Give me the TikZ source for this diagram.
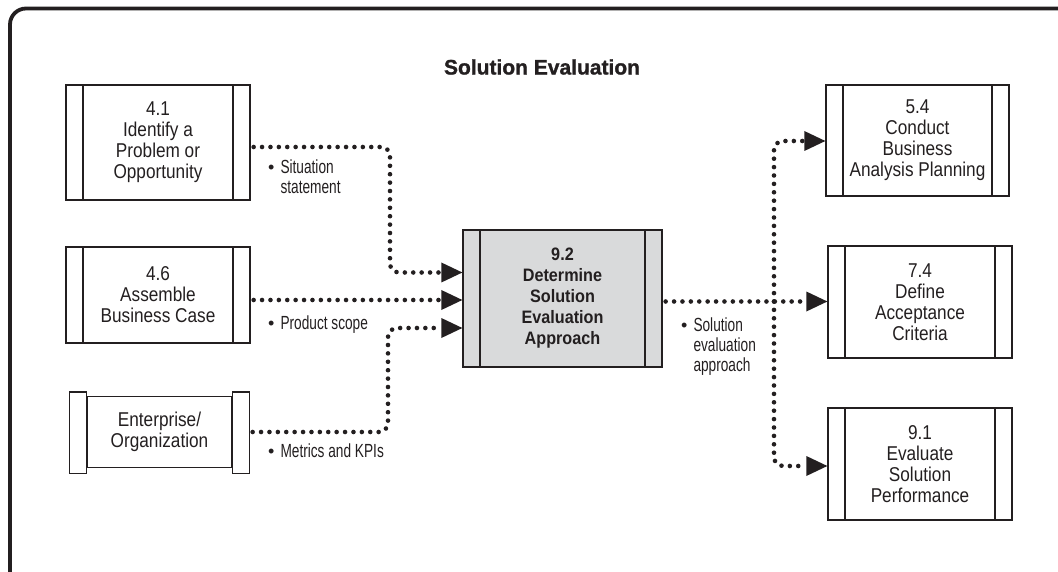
\documentclass[tikz,border=0pt]{standalone}
\usepackage{fontspec}
\setmainfont{Liberation Sans}
\newfontfamily\boxfont[FakeStretch=0.86]{Liberation Sans}
\newfontfamily\ctrfont[FakeStretch=0.9]{Liberation Sans}
\newfontfamily\lblfont[FakeStretch=0.72]{Liberation Sans}
\newfontfamily\ttlfont[FakeBold=1.2]{Liberation Sans Bold}
\usetikzlibrary{arrows.meta,calc}
\definecolor{ink}{RGB}{35,31,32}
\definecolor{boxgray}{RGB}{217,218,219}
\newcommand{\blt}{{\normalfont\fontsize{18}{20}\selectfont\textbullet}}
\tikzset{
  procbox/.style={draw=ink, line width=1.3pt, minimum width=184pt, inner sep=0pt,
    align=center, text=ink, font=\boxfont\fontsize{20}{21}\selectfont,
    path picture={\draw[ink,line width=1.3pt]
      ([xshift=17pt]path picture bounding box.north west) -- ([xshift=17pt]path picture bounding box.south west)
      ([xshift=-17pt]path picture bounding box.north east) -- ([xshift=-17pt]path picture bounding box.south east);}},
  bodybox/.style={draw=ink, line width=1.3pt, inner sep=0pt, align=center, text=ink,
    font=\boxfont\fontsize{20}{21}\selectfont},
  strip/.style={draw=ink, line width=1.3pt},
  flow/.style={draw=ink, line width=4.6pt, line cap=round, dash pattern=on 0pt off 8.4pt,
    rounded corners=9pt, -{Triangle[length=21pt,width=20pt,line width=0pt]}},
  lbl/.style={anchor=west, inner sep=0pt, text=ink, font=\lblfont\fontsize{19}{20}\selectfont},
  ttl/.style={inner sep=0pt, text=ink, font=\ttlfont\fontsize{21}{25}\selectfont}
}
\begin{document}
\begin{tikzpicture}[x=1pt,y=-1pt]
\useasboundingbox (0,0) rectangle (1058,572);
\clip (0,0) rectangle (1058,572);
\draw[ink,line width=3.8pt,rounded corners=16pt] (10,8.5) rectangle (1090,610);

\node[ttl] (title) at (542,67) {Solution Evaluation};

% left boxes
\node[procbox, minimum height=115pt] (b41) at (158,142.5) {4.1\\Identify a\\Problem or\\Opportunity};
\node[procbox, minimum height=96pt] (b46) at (158,295) {4.6\\Assemble\\Business Case};
\node[bodybox, minimum width=145pt, minimum height=71pt] (ent) at (159.5,432) {Enterprise/\\Organization};
\draw[strip] ([xshift=-17pt,yshift=4pt]ent.north west) rectangle ([yshift=-5pt]ent.south west);
\draw[strip] ([yshift=4pt]ent.north east) rectangle ([xshift=17pt,yshift=-5pt]ent.south east);

% centre box
\node[procbox, fill=boxgray, minimum width=199pt, minimum height=137pt,
      font=\ctrfont\bfseries\fontsize{18}{21}\selectfont] (c92) at (562.5,298.5)
      {9.2\\Determine\\Solution\\Evaluation\\Approach};

% right boxes
\node[procbox, minimum width=183pt, minimum height=111pt] (b54) at (917.5,140.5) {5.4\\Conduct\\Business\\Analysis Planning};
\node[procbox, minimum height=112pt] (b74) at (920,302) {7.4\\Define\\Acceptance\\Criteria};
\node[procbox, minimum height=112pt] (b91) at (920,464) {9.1\\Evaluate\\Solution\\Performance};

% inputs
\draw[flow, shorten <=3pt] ([yshift=-4.5pt]b41.east) -- (390,147) -- (390,272.5) -- (c92.west |- 0,272.5);
\draw[flow, shorten <=3pt] (b46.east |- 0,300) -- (c92.west |- 0,300);
\draw[flow, shorten <=3pt] ([xshift=17pt]ent.east) -- (388,432) -- (388,328) -- (c92.west |- 0,328);

% outputs
\coordinate (j) at (774,301.5);
\draw[flow, shorten <=3pt] (c92.east |- 0,301.5) -- (b74.west |- 0,301.5);
\draw[flow] (j) -- (774,141) -- (b54.west |- 0,141);
\draw[flow] (j) -- (774,466) -- (b91.west |- 0,466);

% labels
\node[lbl] (l1) at (268,180) {\begin{tabular}{@{}l@{\hspace{6pt}}l@{}}\blt & Situation\\ & statement\end{tabular}};
\node[lbl] (l2) at (268,325) {\begin{tabular}{@{}l@{\hspace{6pt}}l@{}}\blt & Product scope\end{tabular}};
\node[lbl] (l3) at (268,453) {\begin{tabular}{@{}l@{\hspace{6pt}}l@{}}\blt & Metrics and KPIs\end{tabular}};
\node[lbl] (l4) at (681,347) {\begin{tabular}{@{}l@{\hspace{6pt}}l@{}}\blt & Solution\\ & evaluation\\ & approach\end{tabular}};
\end{tikzpicture}
\end{document}
